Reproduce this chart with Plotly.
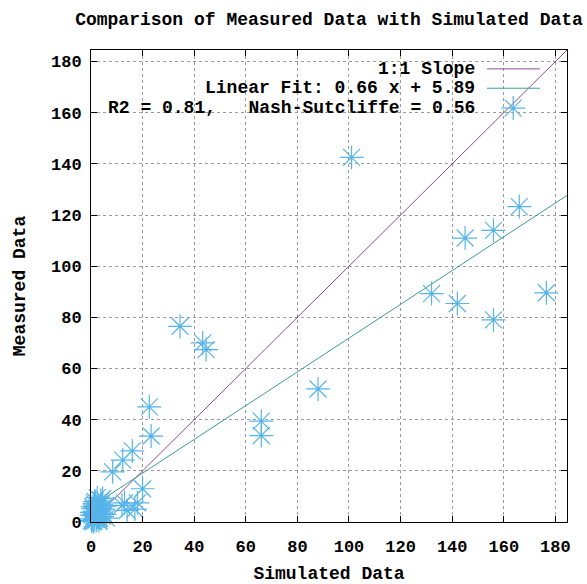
import plotly.graph_objects as go

# ---- data ----
simulated = [101, 166, 156, 145, 132, 142, 156, 176.5, 88, 66, 66, 34.5, 43.3, 44.6,
             22.6, 23.3, 16, 12.3, 8.4, 20, 12, 14, 17, 18, 13, 4.5,
             0.2, 0.5, 0.8, 1.0, 1.2, 1.5, 1.8, 2.0, 2.2, 2.5, 2.8, 3.0, 3.3, 3.6, 4.0, 4.3,
             4.8, 5.2, 0.3, 0.7, 1.1, 1.6, 2.1, 2.6, 3.1, 3.8, 0.4, 0.9, 1.4, 2.4, 4.5, 5.5, 6.0]
measured = [142.5, 123.3, 114, 111, 89.3, 85.4, 79, 89.6, 52, 39.4, 33.8, 76.5, 70, 67.4,
            45, 33.6, 27.8, 24.2, 19.6, 13, 6.5, 4.5, 5, 7.5, 7.5, 9.2,
            0.5, 1.2, 0.3, 2.5, 4.0, 1.0, 3.2, 5.5, 0.8, 2.0, 6.5, 3.5, 1.5, 4.8, 7.0, 2.2,
            5.0, 3.0, 3.8, 6.0, 0.2, 8.0, 1.8, 4.2, 0.6, 8.5, 2.8, 5.2, 7.2, 9.5, 3.0, 6.2, 1.5]
fit_slope = 0.66
fit_intercept = 5.89
r2 = 0.81
nash_sutcliffe = 0.56
axis_max = 184.5
tick_values = [0, 20, 40, 60, 80, 100, 120, 140, 160, 180]
tick_labels = [str(v) for v in tick_values]

title_text = "Comparison of Measured Data with Simulated Data"
x_title = "Simulated Data"
y_title = "Measured Data"
label_one = "1:1 Slope"
label_fit = f"Linear Fit: {fit_slope:.2f} x + {fit_intercept:.2f}"
label_pts = f"R2 = {r2:.2f},\u00a0\u00a0\u00a0Nash-Sutcliffe = {nash_sutcliffe:.2f}"

# ---- styles ----
FONT = "Liberation Mono"
FS_TICK = 17
FS_TEXT = 18
C_ONE = "#8a4a94"
C_FIT = "#3b9c96"
C_PTS = "#56B4E9"

fig = go.Figure()

line_x = [0, axis_max]
fig.add_trace(go.Scatter(x=line_x, y=line_x, mode="lines",
                         line=dict(color=C_ONE, width=1), showlegend=False, hoverinfo="skip"))
fig.add_trace(go.Scatter(x=line_x, y=[fit_slope * v + fit_intercept for v in line_x], mode="lines",
                         line=dict(color=C_FIT, width=1), showlegend=False, hoverinfo="skip"))
star = dict(symbol="asterisk-open", size=20, color=C_PTS, line=dict(color=C_PTS, width=1.2))
fig.add_trace(go.Scatter(x=simulated, y=measured, mode="markers", cliponaxis=False,
                         marker=star, showlegend=False))

# legend star sample on overlay axes
fig.add_trace(go.Scatter(x=[0.887], y=[0.877], mode="markers", xaxis="x2", yaxis="y2",
                         cliponaxis=False, marker=star,
                         showlegend=False, hoverinfo="skip"))

txt_font = dict(family=FONT, size=FS_TEXT, color="black", weight="bold")

axis_common = dict(
    range=[0, axis_max], tickvals=tick_values, ticktext=tick_labels,
    ticks="inside", ticklen=6, tickcolor="black", tickwidth=1,
    showline=True, linecolor="black", linewidth=1, mirror="ticks",
    showgrid=True, gridcolor="#9a9a9a", griddash="dot", gridwidth=1,
    zeroline=False, automargin=False,
    tickfont=dict(family=FONT, size=FS_TICK, color="black", weight="bold"),
)

fig.update_layout(
    width=587, height=584,
    margin=dict(l=91, r=20, t=50, b=62),
    paper_bgcolor="white", plot_bgcolor="white",
    title=dict(text=title_text, x=0.5, xref="paper", xanchor="center",
               y=1 - 19 / 584, yref="container", yanchor="middle", font=txt_font),
    xaxis=dict(**axis_common, ticklabelstandoff=9,
               title=dict(text=x_title, standoff=9, font=txt_font)),
    yaxis=dict(**axis_common, ticklabelstandoff=5,
               title=dict(text=y_title, standoff=20, font=txt_font)),
    xaxis2=dict(range=[0, 1], overlaying="x", visible=False),
    yaxis2=dict(range=[0, 1], overlaying="y", visible=False),
    showlegend=False,
)

for txt, yy in [(label_one, 0.960), (label_fit, 0.919), (label_pts, 0.877)]:
    fig.add_annotation(text=txt, xref="paper", yref="paper", x=0.811, y=yy,
                       xanchor="right", yanchor="middle", showarrow=False, font=txt_font)

for col, yy in [(C_ONE, 0.960), (C_FIT, 0.919)]:
    fig.add_shape(type="line", xref="paper", yref="paper", x0=0.832, x1=0.943, y0=yy, y1=yy,
                  line=dict(color=col, width=1))

fig.write_html("out.html")
